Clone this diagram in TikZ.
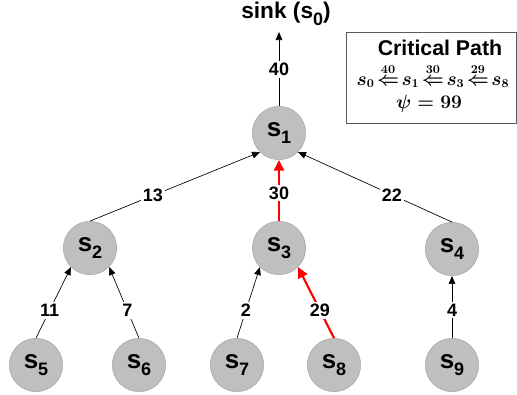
\documentclass[tikz,border=0pt]{standalone}
\usepackage{amsmath,bm}
\usepackage[no-math]{fontspec}
\setmainfont{Liberation Sans}
\usetikzlibrary{arrows.meta}

\definecolor{nodegray}{HTML}{BFBFBF}
\definecolor{rimgray}{HTML}{A6A6A6}
\newcommand{\sx}[1]{s\raisebox{-0.28em}{\fontsize{13.5}{13.5}\selectfont #1}}
\newcommand{\back}[1]{\!\overset{\mathbf{#1}}{\Leftarrow}\!}

\begin{document}
\begin{tikzpicture}[x=0.75pt,y=-0.75pt,
  state/.style={circle,fill=nodegray,draw=rimgray,line width=0.4pt,minimum size=40pt,inner sep=0pt,font=\fontsize{19.5}{19.5}\bfseries},
  wt/.style={fill=white,text=black,inner sep=1.5pt,font=\fontsize{13.5}{13.5}\bfseries},
  arc/.style={-{Triangle[length=6pt,width=5pt]},line width=0.5pt},
  crit/.style={-{Triangle[length=8pt,width=7.5pt]},red,line width=1.6pt}]

\useasboundingbox (0,0) rectangle (517,394);

% tree
\node[state] (s1) at (279,133) {\sx{1}};
\node[state] (s2) at (90,248)  {\sx{2}};
\node[state] (s3) at (279,248) {\sx{3}};
\node[state] (s4) at (452,249) {\sx{4}};
\node[state] (s5) at (36,365)  {\sx{5}};
\node[state] (s6) at (139,365) {\sx{6}};
\node[state] (s7) at (237,365) {\sx{7}};
\node[state] (s8) at (334,365) {\sx{8}};
\node[state] (s9) at (452,365) {\sx{9}};

\node[font=\fontsize{17}{17}\bfseries] (sink) at (286,14) {sink (\sx{0})};
\coordinate (top) at (279,32);

\draw[arc] (s1.north) -- node[wt,pos=0.49] {40} (top);
\draw[arc] (s2.north) -- node[wt,pos=0.37] {13} (s1.south west);
\draw[crit] (s3.north) -- node[wt,pos=0.46] {30} (s1.south);
\draw[arc] (s4.north) -- node[wt,pos=0.39] {22} (s1.south east);
\draw[arc] (s5.north) -- node[wt,pos=0.39] {11} (s2.south west);
\draw[arc] (s6.north) -- node[wt,pos=0.39] {7} (s2.south east);
\draw[arc] (s7.north) -- node[wt,pos=0.39] {2} (s3.south west);
\draw[crit] (s8.north) -- node[wt,pos=0.39] {29} (s3.south east);
\draw[arc] (s9.north) -- node[wt,pos=0.45] {4} (s4.south);

% critical path box
\draw[black!65,line width=0.5pt] (346,32) rectangle (516,123);
\node[font=\fontsize{16}{16}\bfseries] (cptitle) at (440,48) {Critical Path};
\node[font=\fontsize{13.5}{13.5}\selectfont\boldmath] (cpchain) at (433,76)
  {$s_0\back{40}s_1\back{30}s_3\back{29}s_8$};
\node[font=\fontsize{15.5}{15.5}\selectfont\boldmath] (cppsi) at (429,104) {$\psi=\mathbf{99}$};

\end{tikzpicture}
\end{document}
